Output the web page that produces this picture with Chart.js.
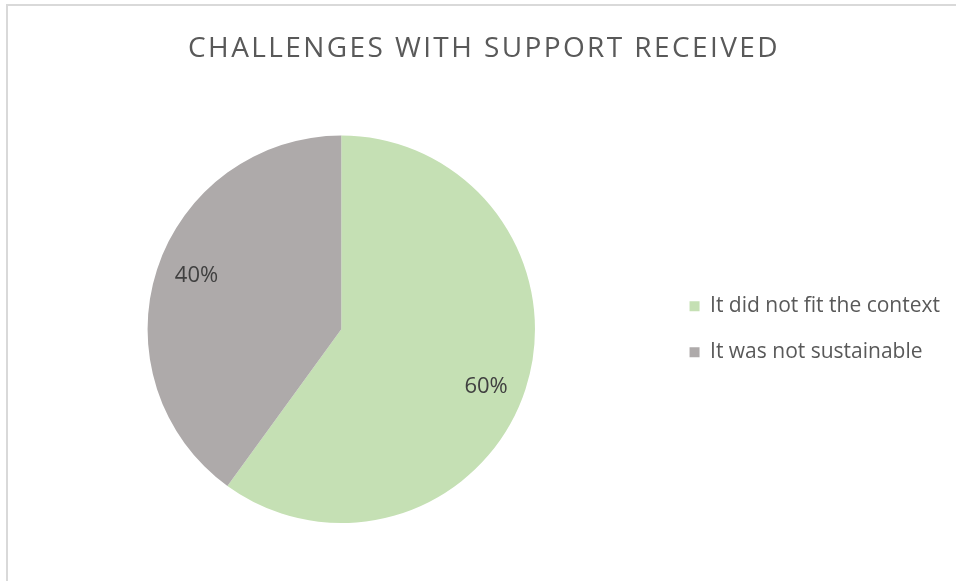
<!DOCTYPE html>
<html>
<head>
<meta charset="utf-8">
<script src="https://cdn.jsdelivr.net/npm/chart.js@4.4.1/dist/chart.umd.min.js"></script>
<style>
  html, body { margin: 0; padding: 0; background: #fff; overflow: hidden; }
  #frame {
    position: absolute; left: 6px; top: 4px; width: 950px; height: 577px;
    border-top: 2px solid #d9d9d9; border-left: 2px solid #d9d9d9;
  }
  #wrap { position: absolute; left: 0; top: 0; width: 948px; height: 575px; }
</style>
</head>
<body>
<div id="frame"><div id="wrap"><canvas id="pie"></canvas></div></div>
<script>
const TITLE = 'CHALLENGES WITH SUPPORT RECEIVED';
const categories = ['It did not fit the context', 'It was not sustainable'];
const shares = [60, 40];
const sliceColors = ['#c5e0b4', '#aeaaaa'];

const FONT = '"Open Sans", "Noto Sans", sans-serif';

// slightly spaced title lettering: wrap the title box draw once
const titleSpacing = {
  id: 'titleSpacing',
  beforeDraw(chart) {
    const tb = chart.titleBlock;
    if (!tb || tb._spaced) return;
    const orig = tb.draw.bind(tb);
    tb.draw = function () {
      const c = this.ctx;
      c.save();
      c.letterSpacing = '2.4px';
      orig();
      c.restore();
    };
    tb._spaced = true;
  }
};

// percentage labels inside each slice
const sliceLabels = {
  id: 'sliceLabels',
  afterDatasetsDraw(chart) {
    const { ctx } = chart;
    const arcs = chart.getDatasetMeta(0).data;
    const total = shares.reduce((a, b) => a + b, 0);
    ctx.save();
    ctx.font = '22px ' + FONT;
    ctx.fillStyle = '#404040';
    ctx.textAlign = 'center';
    ctx.textBaseline = 'middle';
    arcs.forEach((arc, i) => {
      const p = arc.getProps(['x', 'y', 'startAngle', 'endAngle', 'outerRadius'], true);
      const mid = (p.startAngle + p.endAngle) / 2 + 0.05;
      const r = p.outerRadius * 0.8;
      const pct = Math.round(shares[i] / total * 100) + '%';
      ctx.fillText(pct, p.x + Math.cos(mid) * r, p.y + Math.sin(mid) * r + 2);
    });
    ctx.restore();
  }
};

new Chart(document.getElementById('pie'), {
  type: 'pie',
  data: {
    labels: categories,
    datasets: [{ data: shares, backgroundColor: sliceColors, borderWidth: 0 }]
  },
  options: {
    responsive: true,
    maintainAspectRatio: false,
    animation: false,
    layout: { padding: { left: 10, right: 6, top: 0, bottom: 58 } },
    plugins: {
      title: {
        display: true, text: TITLE, color: '#595959',
        font: { family: FONT, size: 28, weight: 'normal' },
        padding: { top: 26, bottom: 70 }
      },
      legend: {
        position: 'right',
        fullSize: false,
        labels: {
          color: '#595959', boxWidth: 10, boxHeight: 10, padding: 25,
          font: { family: FONT, size: 21 }
        }
      },
      tooltip: { enabled: false }
    }
  },
  plugins: [titleSpacing, sliceLabels]
});
</script>
</body>
</html>
